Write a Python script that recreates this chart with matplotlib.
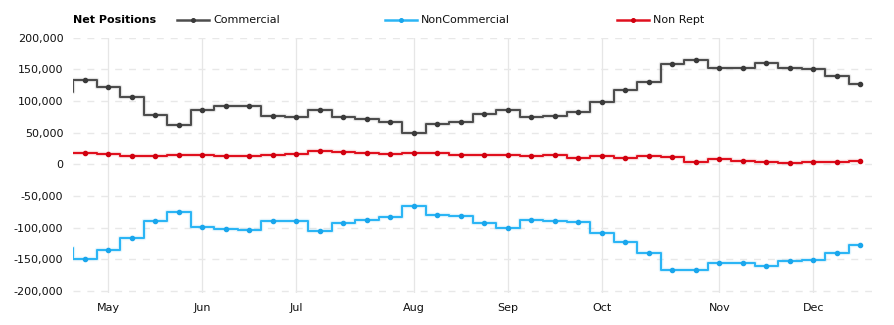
import matplotlib
matplotlib.use("Agg")
import matplotlib.pyplot as plt
from matplotlib.lines import Line2D
import numpy as np
import pandas as pd

# weekly report dates (first one is just before the visible window)
dates = pd.date_range("2018-04-23", periods=35, freq="7D")

commercial = [115000, 134000, 122600, 107000, 78000, 62500, 86400, 93000, 93000, 76000,
              75000, 86400, 75300, 72000, 67300, 49800, 64000, 67300, 80000, 86400,
              75300, 77000, 83000, 98000, 117000, 130000, 159000, 165000, 151700, 153000,
              159700, 153000, 150000, 139000, 126700]
noncommercial = [-132600, -149500, -135700, -116800, -89900, -75200, -99400, -102500, -104000, -89900,
                 -90000, -105700, -92600, -88400, -83000, -65700, -79500, -81500, -92600, -100500,
                 -87800, -89400, -91000, -107900, -122000, -139500, -166000, -166000, -155000, -155000,
                 -160500, -152000, -150500, -139500, -126800]
nonrept = [17500, 18500, 16400, 13200, 13200, 14800, 14800, 13200, 13200, 14800,
           15800, 21700, 19600, 18000, 16400, 18000, 18000, 14800, 14800, 14800,
           13200, 14800, 10000, 13700, 10500, 13700, 11600, 3700, 9000, 5300,
           3700, 2000, 3700, 3700, 5300]

series_names = ["Commercial", "NonCommercial", "Non Rept"]
series_colors = ["#4d4d4d", "#2bb5f5", "#e0101e"]
marker_colors = ["#3a3a3a", "#1aa6ec", "#d0000f"]
yticks = [-200000, -150000, -100000, -50000, 0, 50000, 100000, 150000, 200000]

plt.rcParams["font.family"] = ["DejaVu Sans"]
fig = plt.figure(figsize=(8.94, 3.25), dpi=100)
ax = fig.add_axes([73/894, 1-293/325, (872-73)/894, (293-37.8)/325])

x = np.arange(len(dates)) - 1  # index -1 is the point before the window

for vals, c, mc in zip([commercial, noncommercial, nonrept], series_colors, marker_colors):
    ax.step(x, vals, where="mid", color=c, lw=3.2, alpha=0.13, zorder=3)
    ax.step(x, vals, where="mid", color=c, lw=1.5, zorder=4)
    ax.plot(x[1:], vals[1:], ls="none", marker="o", ms=3.0, color=mc, zorder=5)

ax.set_xlim(-0.5, len(dates) - 1.5)
ax.set_ylim(-203000, 200000)

# month ticks at first weekly point of each month
month_pos, month_lab = [], []
for i in range(1, len(dates)):
    if dates[i].month != dates[i-1].month:
        month_pos.append(i - 1)
        month_lab.append(dates[i].strftime("%b"))
ax.set_xticks(month_pos)
ax.set_xticklabels(month_lab)
ax.set_yticks(yticks)
ax.set_yticklabels([f"{v:,}" for v in yticks])
ax.tick_params(length=0, labelsize=8, colors="#111111")
ax.tick_params(axis="y", pad=7)
ax.tick_params(axis="x", pad=7)

ax.grid(axis="y", color="#e8e8e8", ls=(0, (5, 5)), lw=1)
ax.grid(axis="x", color="#e6e6e6", ls="-", lw=0.9)
ax.set_axisbelow(True)
for s in ax.spines.values():
    s.set_visible(False)

# legend header
ly = 1 - 20/325
fig.text(73/894, ly, "Net Positions", fontsize=8, fontweight="bold", va="center", ha="left")
leg_x = [177, 385, 617]
for lx, name, c, mc in zip(leg_x, series_names, series_colors, marker_colors):
    fig.add_artist(Line2D([lx/894, (lx+32)/894], [ly, ly], color=c, lw=1.8, transform=fig.transFigure))
    fig.add_artist(Line2D([(lx+16)/894], [ly], marker="o", ms=2.6, color=mc, transform=fig.transFigure))
    fig.text((lx+36)/894, ly, name, fontsize=8, va="center", ha="left", color="#111111")

fig.savefig("out.png", dpi=100)
